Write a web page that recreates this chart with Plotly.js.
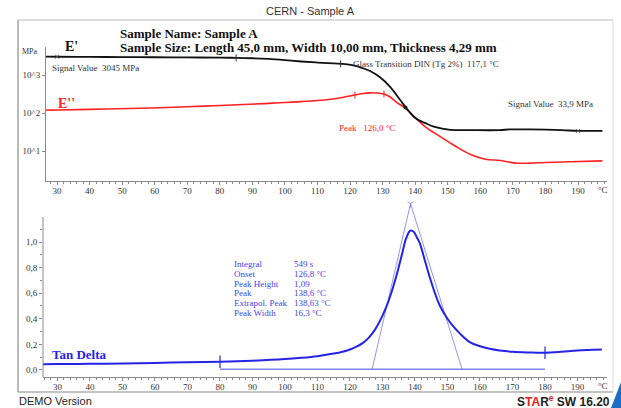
<!DOCTYPE html>
<html>
<head>
<meta charset="utf-8">
<script src="https://cdn.plot.ly/plotly-3.0.1.min.js"></script>
<style>
  html, body { margin: 0; padding: 0; background: #fff; }
  #chart { width: 621px; height: 408px; }
</style>
</head>
<body>
<div id="chart"></div>
<script>
// Storage modulus E' (MPa) against temperature (°C)
const storageT = [26.6, 30, 40, 50, 60, 70, 80, 85, 90, 95, 100, 105, 110, 115, 118.5, 121, 123, 126, 129, 132.3, 135.4, 137, 140, 143, 146, 150.8, 157, 166, 169, 175, 185, 190, 197.5];
const storageE = [3080, 3045, 3010, 2980, 2950, 2920, 2880, 2850, 2780, 2660, 2480, 2280, 2140, 2030, 1950, 1800, 1620, 1300, 900, 490, 220, 145, 74, 55, 43, 36, 35.5, 35.5, 37, 37, 35.5, 33.9, 34];

// Loss modulus E'' (MPa)
const lossT = [26.6, 30, 45, 61.5, 75, 89, 95, 100, 105, 110, 114, 118, 121.5, 124, 126, 128, 130.4, 132.3, 134, 137, 140, 143, 147.7, 152.3, 157, 161.5, 166.2, 170.8, 175.4, 180, 187.7, 197.5];
const lossE = [120, 120, 128, 138, 152, 170, 180, 190, 200, 214, 232, 262, 298, 326, 340, 338, 318, 265, 200, 133, 77, 44, 24, 13.5, 8.1, 6.1, 5.6, 4.8, 4.8, 5.0, 5.2, 5.5];

// Loss factor tan delta
const tanT = [25.5, 30, 40, 50, 60, 70, 80, 90, 100, 105, 110, 115, 118, 120, 122, 124, 125.5, 127, 128.5, 130, 131.5, 133, 134.5, 136, 137.3, 138.6, 139.6, 140.6, 141.5, 143, 144.6, 146, 147.7, 150, 151.8, 154, 157, 160, 163, 166, 170, 175, 180, 185, 190, 197.5];
const tanD = [0.045, 0.046, 0.048, 0.051, 0.055, 0.060, 0.064, 0.072, 0.085, 0.095, 0.108, 0.128, 0.145, 0.16, 0.182, 0.212, 0.245, 0.29, 0.35, 0.425, 0.515, 0.625, 0.755, 0.905, 1.03, 1.09, 1.08, 1.035, 0.99, 0.86, 0.72, 0.61, 0.50, 0.40, 0.34, 0.28, 0.215, 0.185, 0.165, 0.152, 0.142, 0.137, 0.135, 0.142, 0.152, 0.16];

// Peak evaluation: baseline between the limits and the two inflection tangents
const baselineT = [80, 180];
const baselineV = [0.005, 0.005];
const tangentT = [126.8, 138.63, 154.5];
const tangentV = [0.005, 1.30, 0.005];
const apexT = [138.63];
const apexV = [1.30];
const limitT = [80, 180];
const limitV = [0.064, 0.135];

// Evaluation marks on the modulus curves
const storageMarkT = [85, 117.1];
const storageMarkE = [2850, 1990];
const storageCrossT = [30, 190];
const storageCrossE = [3045, 33.9];
const crossoverT = [137];
const crossoverE = [140];
const lossMarkT = [121.5, 130.4];
const lossMarkE = [298, 318];

// Axis ticks
const xTicks = [30, 40, 50, 60, 70, 80, 90, 100, 110, 120, 130, 140, 150, 160, 170, 180, 190];
const logTickVals = [10, 100, 1000];
const logTickText = ['10^1', '10^2', '10^3'];
const tanTickVals = [0, 0.2, 0.4, 0.6, 0.8, 1.0];
const tanTickText = ['0,0', '0,2', '0,4', '0,6', '0,8', '1,0'];
const tanMinorVals = [0.1, 0.3, 0.5, 0.7, 0.9, 1.1];

// Result table of the tan delta peak
const resultLabels = ['Integral', 'Onset', 'Peak Height', 'Peak', 'Extrapol. Peak', 'Peak Width'];
const resultValues = ['549 s', '126,8 °C', '1,09', '138,6 °C', '138,63 °C', '16,3 °C'];

const W = 621, H = 408;
const fx = p => p / W;
const fy = p => 1 - p / H;

const SERIF = 'Liberation Serif, Times New Roman, serif';
const SANS = 'Liberation Sans, Arial, sans-serif';
const AXIS = '#8a8a8a';
const TEXT = '#333';
const BLUE = '#2424e6';
const LIGHTBLUE = '#7878ee';
const RED = '#ff2222';

const traces = [
  { x: lossT, y: lossE, xaxis: 'x', yaxis: 'y', mode: 'lines', line: { color: RED, width: 1.6, shape: 'spline', smoothing: 1 } },
  { x: storageT, y: storageE, xaxis: 'x', yaxis: 'y', mode: 'lines', line: { color: '#111', width: 1.8, shape: 'spline', smoothing: 1 } },
  { x: storageMarkT, y: storageMarkE, xaxis: 'x', yaxis: 'y', mode: 'markers', marker: { symbol: 'line-ns', size: 5, color: '#333', line: { color: '#333', width: 1 } } },
  { x: storageCrossT, y: storageCrossE, xaxis: 'x', yaxis: 'y', mode: 'markers', marker: { symbol: 'x-thin', size: 4, color: '#555', line: { color: '#555', width: 1 } } },
  { x: crossoverT, y: crossoverE, xaxis: 'x', yaxis: 'y', mode: 'markers', marker: { symbol: 'circle', size: 4, color: '#222' } },
  { x: lossMarkT, y: lossMarkE, xaxis: 'x', yaxis: 'y', mode: 'markers', marker: { symbol: 'line-ns', size: 5, color: RED, line: { color: RED, width: 1 } } },

  { x: baselineT, y: baselineV, xaxis: 'x2', yaxis: 'y2', mode: 'lines', line: { color: '#8080f4', width: 1.6 } },
  { x: tangentT, y: tangentV, xaxis: 'x2', yaxis: 'y2', mode: 'lines', line: { color: LIGHTBLUE, width: 0.8 } },
  { x: apexT, y: apexV, xaxis: 'x2', yaxis: 'y2', mode: 'markers', marker: { symbol: 'y-down-open', size: 5, color: LIGHTBLUE, line: { color: LIGHTBLUE, width: 0.8 } } },
  { x: tanT, y: tanD, xaxis: 'x2', yaxis: 'y2', mode: 'lines', line: { color: BLUE, width: 2, shape: 'spline', smoothing: 1 } },
  { x: limitT, y: limitV, xaxis: 'x2', yaxis: 'y2', mode: 'markers', marker: { symbol: 'line-ns', size: 9, color: BLUE, line: { color: BLUE, width: 1.2 } } }
];

const tickFont = { family: SERIF, size: 9, color: TEXT };

function xAxis(domain, range, anchor) {
  return {
    domain: domain, range: range, anchor: anchor,
    showline: true, linecolor: AXIS, linewidth: 1,
    showgrid: false, zeroline: false,
    tickmode: 'array', tickvals: xTicks, ticktext: xTicks.map(String),
    ticks: 'outside', ticklen: 3, tickcolor: AXIS, tickfont: tickFont,
    ticklabelstandoff: -2,
    minor: { dtick: 2, ticks: 'outside', ticklen: 2, tickcolor: AXIS, showgrid: false },
    fixedrange: true
  };
}

const annotations = [];
function txt(text, x, y, opts) {
  annotations.push(Object.assign({
    text: text, x: fx(x), y: fy(y), xref: 'paper', yref: 'paper',
    showarrow: false, xanchor: 'left', yanchor: 'middle',
    font: { family: SERIF, size: 9, color: TEXT }
  }, opts || {}));
}

txt('CERN - Sample A', 310, 11, { xanchor: 'center', font: { family: SANS, size: 11, color: '#333' } });
txt('<b>Sample Name: Sample A</b>', 118, 33, { font: { family: SERIF, size: 13, color: '#111' } });
txt('<b>Sample Size: Length 45,0 mm, Width 10,00 mm, Thickness 4,29 mm</b>', 118, 47, { font: { family: SERIF, size: 13, color: '#111' } });
txt("<b>E'</b>", 63, 46, { font: { family: SERIF, size: 14, color: '#111' } });
txt('MPa', 20, 51, { font: { family: SERIF, size: 8, color: TEXT } });
txt('Signal Value\u00a0\u00a03045 MPa', 50, 68);
txt("<b>E''</b>", 56, 103, { font: { family: SERIF, size: 14, color: RED } });
txt('Glass Transition DIN (Tg 2%)\u00a0\u00a0117,1 °C', 351, 64);
txt('Signal Value\u00a0\u00a033,9 MPa', 506, 104);
txt('Peak\u00a0\u00a0\u00a0126,0 °C', 337, 128, { font: { family: SERIF, size: 9, color: RED } });
txt('°C', 603, 190, { xanchor: 'center' });
txt('°C', 603, 386, { xanchor: 'center' });
txt('<b>Tan Delta</b>', 50, 354, { font: { family: SERIF, size: 13, color: BLUE } });
resultLabels.forEach((lab, i) => {
  const y = 264 + i * 9.8;
  txt(lab, 232, y, { font: { family: SERIF, size: 9, color: '#4444ee' } });
  txt(resultValues[i], 292, y, { font: { family: SERIF, size: 9, color: '#4444ee' } });
});
txt('DEMO Version', 17, 401, { font: { family: SANS, size: 11, color: '#222' } });
txt('<b>S<span style="color:#e3201b">TA</span>R<sup><span style="color:#e3201b">e</span></sup> SW 16.20</b>', 612, 401,
    { xanchor: 'right', font: { family: SANS, size: 12, color: '#222' } });

const shapes = [
  // report frame
  { type: 'line', xref: 'paper', yref: 'paper', x0: fx(18), x1: fx(18), y0: fy(20), y1: fy(392), line: { color: '#777', width: 1 } },
  { type: 'line', xref: 'paper', yref: 'paper', x0: fx(18), x1: fx(613), y0: fy(392), y1: fy(392), line: { color: '#888', width: 1.2 } },
  { type: 'line', xref: 'paper', yref: 'paper', x0: fx(18), x1: fx(613), y0: fy(20), y1: fy(20), line: { color: '#bbb', width: 1 } },
  { type: 'line', xref: 'paper', yref: 'paper', x0: fx(613), x1: fx(613), y0: fy(20), y1: fy(392), line: { color: '#ddd', width: 1 } },
  // tan delta value axis line (the plot area reaches higher so the tangent apex stays visible)
  { type: 'line', xref: 'paper', yref: 'paper', x0: fx(43), x1: fx(43), y0: fy(377), y1: fy(217), line: { color: AXIS, width: 1 } },
  // corner accent
  { type: 'path', xref: 'paper', yref: 'paper',
    path: `M ${fx(611)} ${fy(408)} L ${fx(621)} ${fy(382)} L ${fx(621)} ${fy(408)} Z`,
    fillcolor: '#1e6cc4', line: { width: 0 } }
];

const layout = {
  width: W, height: H,
  margin: { l: 0, r: 0, t: 0, b: 0 },
  paper_bgcolor: '#fff', plot_bgcolor: 'rgba(0,0,0,0)',
  showlegend: false,
  xaxis: xAxis([fx(46), fx(607)], [26.62, 198.9], 'y'),
  yaxis: {
    domain: [fy(181), fy(47)], anchor: 'x', type: 'log', range: [0.21, 3.74],
    showline: true, linecolor: AXIS, linewidth: 1, showgrid: false, zeroline: false,
    tickmode: 'array', tickvals: logTickVals, ticktext: logTickText,
    ticks: 'outside', ticklen: 3, tickcolor: AXIS, tickfont: tickFont, fixedrange: true
  },
  xaxis2: xAxis([fx(43), fx(607)], [25.54, 199.08], 'y2'),
  yaxis2: {
    domain: [fy(377), fy(198)], anchor: 'x2', range: [-0.055, 1.344],
    showline: false, showgrid: false, zeroline: false,
    tickmode: 'array', tickvals: tanTickVals, ticktext: tanTickText,
    ticks: 'outside', ticklen: 3, tickcolor: AXIS, tickfont: tickFont,
    minor: { tickvals: tanMinorVals, ticks: 'outside', ticklen: 2, tickcolor: AXIS, showgrid: false },
    fixedrange: true
  },
  annotations: annotations,
  shapes: shapes
};

Plotly.newPlot('chart', traces, layout, { staticPlot: true, displayModeBar: false });
</script>
</body>
</html>
